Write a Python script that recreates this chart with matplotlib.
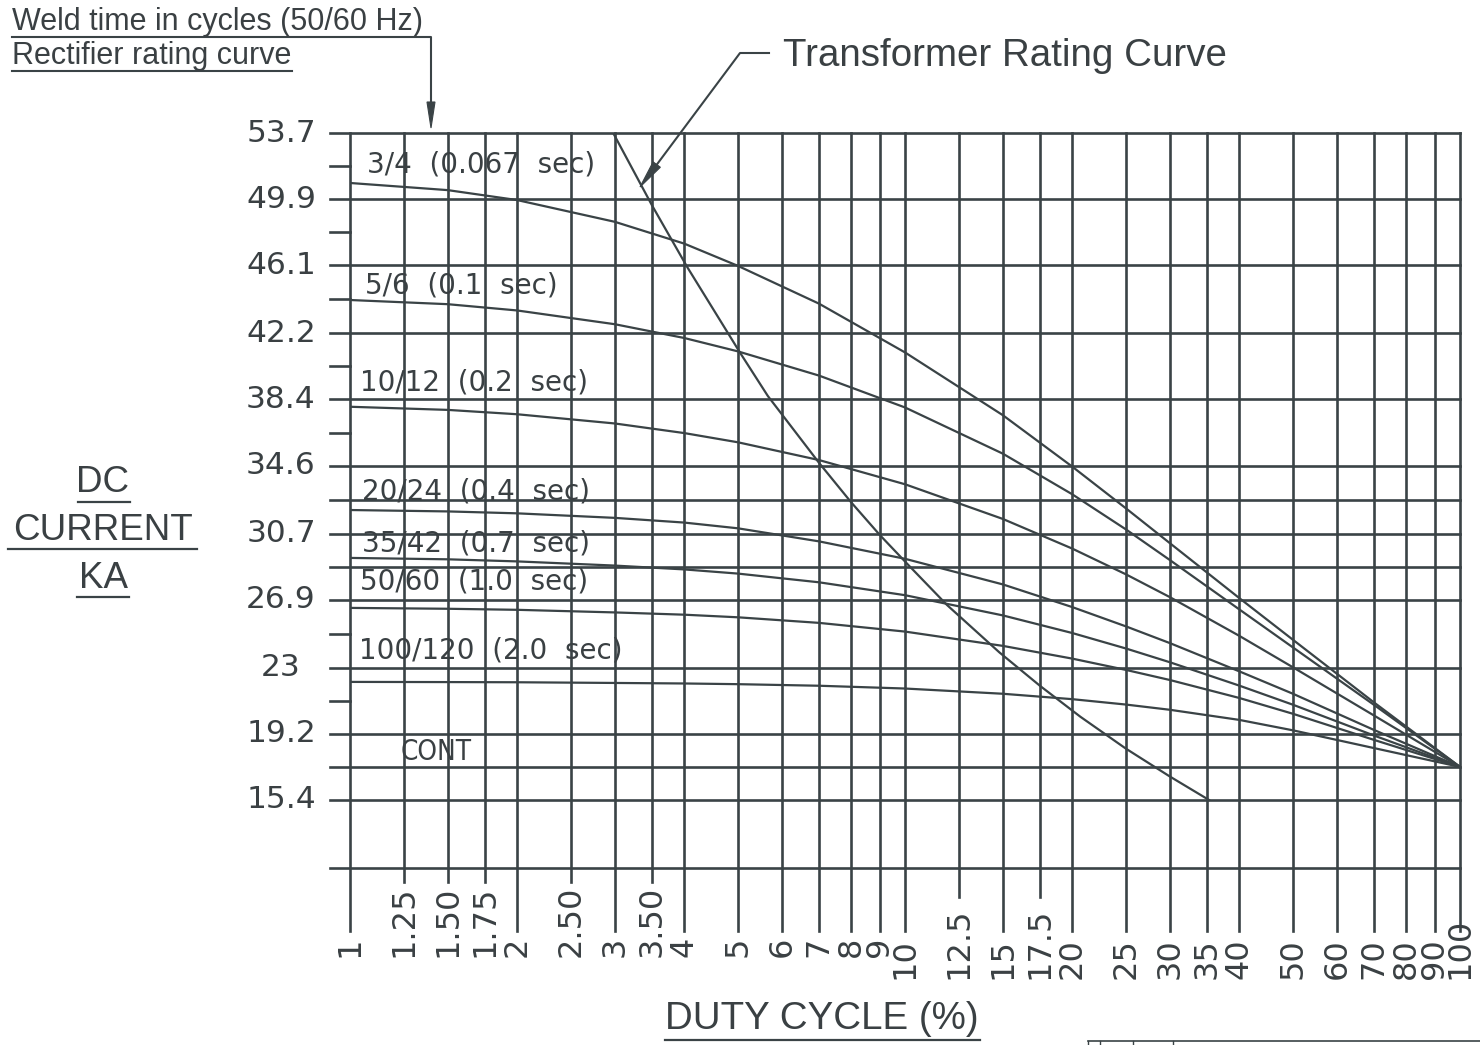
import math
import matplotlib
matplotlib.use("Agg")
import matplotlib.pyplot as plt
from matplotlib.lines import Line2D
from matplotlib.patches import Polygon
from matplotlib.transforms import blended_transform_factory

# ---------------- data ----------------
y_labels = ["53.7", "49.9", "46.1", "42.2", "38.4", "34.6", "30.7", "26.9", "23", "19.2", "15.4"]
y_label_vals = [53.7, 49.9, 46.1, 42.2, 38.4, 34.6, 30.7, 26.9, 23.0, 19.2, 15.4]
y_extra_lines = [32.65, 28.8, 17.3, 11.5]
y_tick_only = [51.8, 48.0, 44.15, 40.3, 36.5, 24.95, 21.1]

x_ticks = [1, 1.25, 1.5, 1.75, 2, 2.5, 3, 3.5, 4, 5, 6, 7, 8, 9, 10,
           12.5, 15, 17.5, 20, 25, 30, 35, 40, 50, 60, 70, 80, 90, 100]
x_tick_labels = ["1", "1.25", "1.50", "1.75", "2", "2.50", "3", "3.50", "4", "5", "6", "7", "8", "9", "10",
                 "12.5", "15", "17.5", "20", "25", "30", "35", "40", "50", "60", "70", "80", "90", "100"]

duty_x = [1, 1.5, 2, 3, 4, 5, 7, 10, 15, 20, 25, 30, 40, 50, 70, 100]
curve_names = ["3/4  (0.067  sec)", "5/6  (0.1  sec)", "10/12  (0.2  sec)", "20/24  (0.4  sec)",
               "35/42  (0.7  sec)", "50/60  (1.0  sec)", "100/120  (2.0  sec)"]
ka_3_4 = [50.83, 50.42, 49.85, 48.6, 47.35, 46.07, 43.9, 41.1, 37.5, 34.55, 32.15, 30.15, 27.0, 24.6, 21.0, 17.3]
ka_5_6 = [44.11, 43.87, 43.51, 42.72, 41.93, 41.16, 39.77, 37.94, 35.29, 32.96, 30.94, 29.18, 26.35, 24.16, 20.86, 17.3]
ka_10_12 = [37.98, 37.8, 37.55, 37.02, 36.47, 35.94, 34.92, 33.53, 31.54, 29.84, 28.36, 27.05, 24.83, 23.02, 20.25, 17.3]
ka_20_24 = [32.05, 31.97, 31.86, 31.6, 31.33, 31.0, 30.25, 29.25, 27.78, 26.48, 25.37, 24.41, 22.79, 21.5, 19.42, 17.3]
ka_35_42 = [29.3, 29.22, 29.1, 28.86, 28.64, 28.4, 27.9, 27.16, 26.0, 24.99, 24.1, 23.31, 21.97, 20.87, 19.1, 17.3]
ka_50_60 = [26.43, 26.38, 26.32, 26.17, 26.04, 25.89, 25.57, 25.07, 24.25, 23.52, 22.87, 22.29, 21.26, 20.35, 18.85, 17.3]
ka_100_120 = [22.18, 22.17, 22.16, 22.12, 22.09, 22.05, 21.96, 21.8, 21.5, 21.19, 20.88, 20.58, 20.0, 19.4, 18.38, 17.3]
rect_series = [ka_3_4, ka_5_6, ka_10_12, ka_20_24, ka_35_42, ka_50_60, ka_100_120]
label_x = [1.073, 1.064, 1.042, 1.051, 1.051, 1.042, 1.038]
label_y = [51.46, 44.51, 38.94, 32.63, 29.64, 27.46, 23.55]

trans_x = [2.98, 3.5, 4.05, 5.05, 5.66, 7.0, 8.0, 9.0, 10.1, 11.9, 14.8, 17.5, 20.7, 25, 30, 35.3]
trans_y = [53.7, 49.55, 46.01, 41.06, 38.6, 34.76, 32.49, 30.63, 28.95, 26.6, 23.87, 21.96, 20.18, 18.35, 16.75, 15.4]

# ---------------- style ----------------
LC = "#3a4346"
TC = "#3a4043"
W, H = 1480, 1045

fig = plt.figure(figsize=(W / 100, H / 100), dpi=100)
fig.patch.set_facecolor("white")
ax = fig.add_axes([350 / W, 1 - 868 / H, 1110 / W, 735 / H])
ax.set_xscale("log")
ax.set_xlim(1, 100)
ax.set_ylim(11.494, 53.7)
ax.axis("off")

grid_lw = 1.9
left_ext = -20 / 1110

# horizontal lines
for v in y_label_vals + y_extra_lines:
    ax.axhline(v, xmin=left_ext, xmax=1, color=LC, lw=grid_lw, clip_on=False, zorder=2)
for v in y_tick_only:
    ax.axhline(v, xmin=left_ext, xmax=0, color=LC, lw=grid_lw, clip_on=False, zorder=2)

# vertical lines
for xv, lab in zip(x_ticks, x_tick_labels):
    if len(lab) >= 4:
        bottom_px = 882 if xv < 10 else 897
    else:
        bottom_px = 931
    ymin = -(bottom_px - 868) / 735
    ax.axvline(xv, ymin=ymin, ymax=1, color=LC, lw=grid_lw, clip_on=False, zorder=2)

# tick labels
bt = blended_transform_factory(ax.transData, ax.transAxes)
for xv, lab in zip(x_ticks, x_tick_labels):
    bpx = 957 if xv < 10 else 979
    ax.text(xv, -(bpx - 868) / 735, lab, rotation=90, ha="center", va="bottom",
            transform=bt, fontsize=23, color=TC, family="DejaVu Sans")

bt2 = blended_transform_factory(ax.transAxes, ax.transData)
for v, lab in zip(y_label_vals, y_labels):
    ax.text((281 - 350) / 1110, v, lab, ha="center", va="center", transform=bt2,
            fontsize=22.5, color=TC, family="DejaVu Sans")

# curves
for ys in rect_series:
    ax.plot(duty_x, ys, color=LC, lw=1.6, zorder=3)
ax.plot(trans_x, trans_y, color=LC, lw=1.6, zorder=3)

for name, lx, ly in zip(curve_names, label_x, label_y):
    ax.text(lx, ly, name, ha="left", va="baseline", fontsize=20, color=TC,
            family="DejaVu Sans", zorder=4)
ax.text(1.236, 17.7, "CONT", ha="left", va="baseline", fontsize=20, color=TC,
        family="DejaVu Sans", fontstretch="condensed", zorder=4)


# ---------------- annotations (figure pixel coords) ----------------
def P(x, y):
    return (x / W, 1 - y / H)


def fline(pts, lw=1.6):
    xs = [P(*p)[0] for p in pts]
    ys = [P(*p)[1] for p in pts]
    fig.add_artist(Line2D(xs, ys, color=LC, lw=lw, transform=fig.transFigure))


def arrowhead(tip, direction, length=26, half=4.5):
    dx, dy = direction
    n = math.hypot(dx, dy)
    ux, uy = dx / n, dy / n
    bx, by = tip[0] - ux * length, tip[1] - uy * length
    px, py = -uy, ux
    pts = [P(*tip), P(bx + px * half, by + py * half), P(bx - px * half, by - py * half)]
    fig.add_artist(Polygon(pts, closed=True, facecolor=LC, edgecolor=LC, lw=0.8,
                           transform=fig.transFigure))


fig.text(12 / W, 1 - 30 / H, "Weld time in cycles (50/60 Hz)", fontsize=22, color=TC,
         family="Liberation Sans", ha="left", va="baseline")
fline([(12, 37), (431, 37), (431, 104)], lw=1.5)
arrowhead((431, 128), (0, 1), length=26, half=4)
fig.text(12 / W, 1 - 64 / H, "Rectifier rating curve", fontsize=22, color=TC,
         family="Liberation Sans", ha="left", va="baseline")
fline([(12, 71), (292, 71)], lw=1.5)

fig.text(783 / W, 1 - 66 / H, "Transformer Rating Curve", fontsize=27.7, color=TC,
         family="Liberation Sans", ha="left", va="baseline")
fline([(769, 53), (740, 53), (655, 167)], lw=1.5)
arrowhead((640, 187), (-100, 134), length=28, half=4.5)

# DC CURRENT KA
for txt, yc, x0, x1 in [("DC", 483, 78, 130), ("CURRENT", 530, 8, 197), ("KA", 578, 77, 129)]:
    fig.text(103 / W, 1 - yc / H, txt, fontsize=26.5, color=TC, family="Liberation Sans",
             ha="center", va="center")
    fline([(x0, yc + 19), (x1, yc + 19)], lw=1.6)

fig.text(822 / W, 1 - 1019 / H, "DUTY CYCLE (%)", fontsize=27.7, color=TC,
         family="Liberation Sans", ha="center", va="center")
fline([(665, 1040), (980, 1040)], lw=1.6)

# partially visible revision table at bottom right
fline([(1088, 1041), (1480, 1041)], lw=1.2)
for xx in [1088, 1100, 1133, 1173]:
    fline([(xx, 1041), (xx, 1046)], lw=1.0)
fig.text(1103 / W, 1 - 1058 / H, "U    04L-07    Added lines for 35/42 series (0.7 sec)",
         fontsize=13, color=TC, family="Liberation Sans", ha="left", va="baseline")

fig.savefig("out.png", dpi=100, facecolor="white")
